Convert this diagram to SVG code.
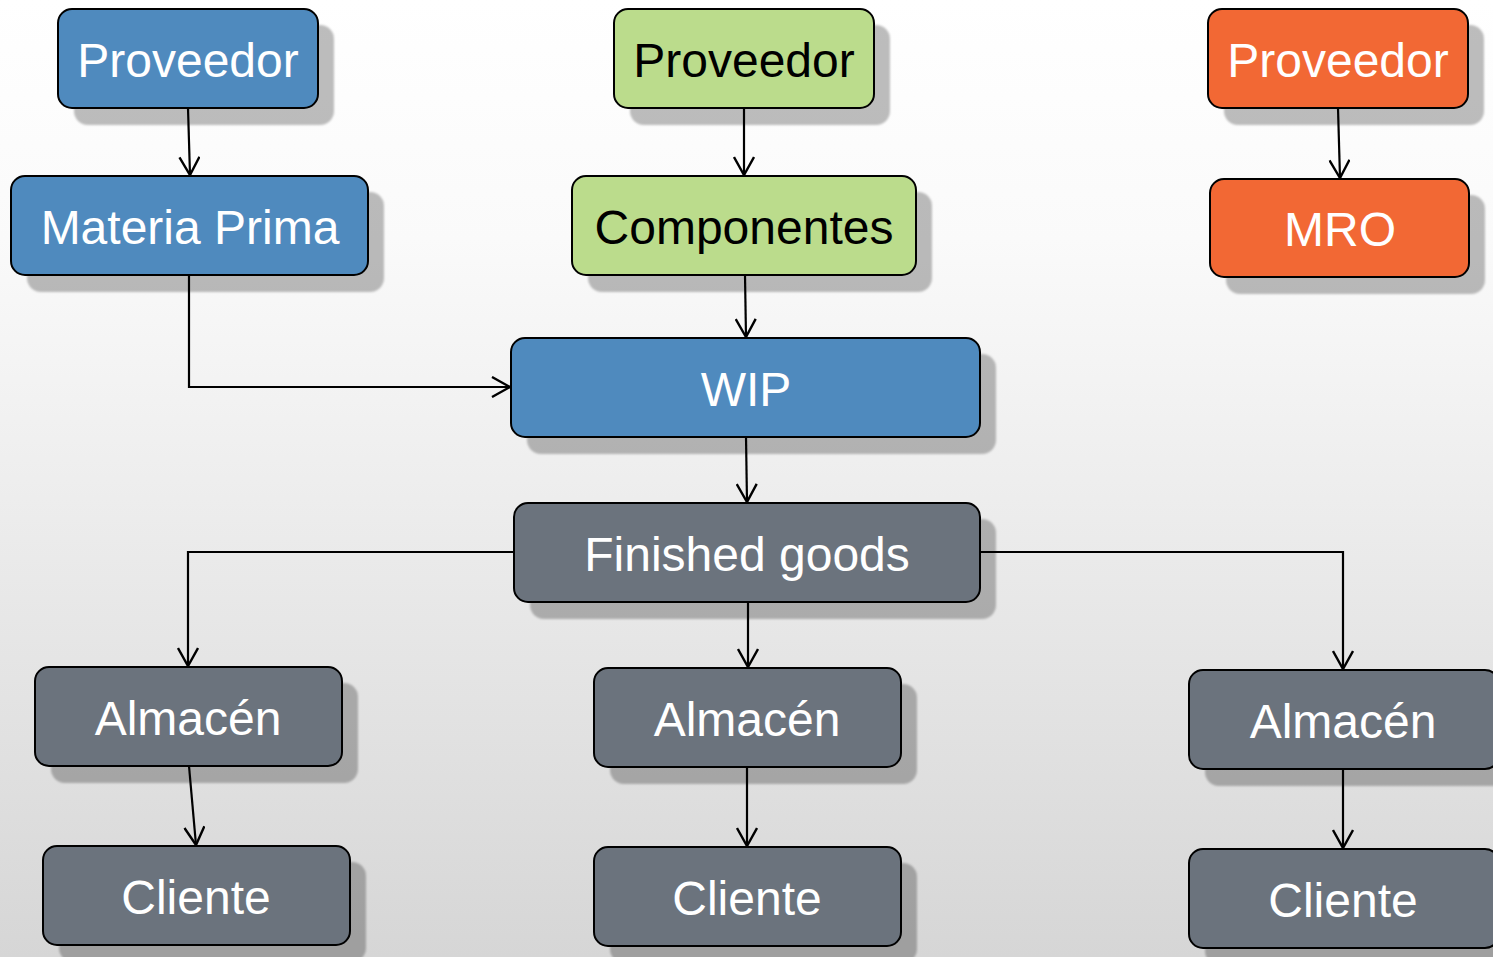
<svg xmlns="http://www.w3.org/2000/svg" width="1493" height="957" viewBox="0 0 1493 957">
  <defs>
    <linearGradient id="bg" x1="0" y1="0" x2="0" y2="1">
      <stop offset="0" stop-color="#ffffff"/>
      <stop offset="0.25" stop-color="#fafafa"/>
      <stop offset="1" stop-color="#d6d6d6"/>
    </linearGradient>
    <marker id="arrow" viewBox="0 0 20 22" refX="19" refY="11" markerWidth="20" markerHeight="22" markerUnits="userSpaceOnUse" orient="auto">
      <path d="M1,1 L19,11 L1,21" fill="none" stroke="#000" stroke-width="2.4"/>
    </marker>
    <filter id="soft" x="-5%" y="-5%" width="110%" height="110%">
      <feGaussianBlur stdDeviation="1"/>
    </filter>
  </defs>
  <style>
    .shadow { fill: #000; fill-opacity: 0.26; filter: url(#soft); }
    .box { stroke: #000; stroke-width: 2; }
    .blue { fill: #4f8abe; }
    .green { fill: #bbdc8c; }
    .orange { fill: #f26834; }
    .gray { fill: #6b737d; }
    .label { font-family: "Liberation Sans", Arial, sans-serif; font-size: 48px; text-anchor: middle; fill: #fff; }
    .dark { fill: #000; }
    .conn { fill: none; stroke: #000; stroke-width: 2.2; marker-end: url(#arrow); }
  </style>

  <rect width="1493" height="957" fill="url(#bg)"/>

  <!-- nodes -->
  <g id="proveedor-mp">
    <rect class="shadow" x="74" y="25" width="260" height="100" rx="14"/>
    <rect class="box blue" x="58" y="9" width="260" height="99" rx="14"/>
    <text class="label" x="188" y="77">Proveedor</text>
  </g>
  <g id="materia-prima">
    <rect class="shadow" x="27" y="192" width="357" height="100" rx="14"/>
    <rect class="box blue" x="11" y="176" width="357" height="99" rx="14"/>
    <text class="label" x="190" y="244">Materia Prima</text>
  </g>
  <g id="proveedor-comp">
    <rect class="shadow" x="630" y="25" width="260" height="100" rx="14"/>
    <rect class="box green" x="614" y="9" width="260" height="99" rx="14"/>
    <text class="label dark" x="744" y="77">Proveedor</text>
  </g>
  <g id="componentes">
    <rect class="shadow" x="588" y="192" width="344" height="100" rx="14"/>
    <rect class="box green" x="572" y="176" width="344" height="99" rx="14"/>
    <text class="label dark" x="744" y="244">Componentes</text>
  </g>
  <g id="proveedor-mro">
    <rect class="shadow" x="1224" y="25" width="260" height="100" rx="14"/>
    <rect class="box orange" x="1208" y="9" width="260" height="99" rx="14"/>
    <text class="label" x="1338" y="77">Proveedor</text>
  </g>
  <g id="mro">
    <rect class="shadow" x="1226" y="195" width="259" height="99" rx="14"/>
    <rect class="box orange" x="1210" y="179" width="259" height="98" rx="14"/>
    <text class="label" x="1340" y="246">MRO</text>
  </g>
  <g id="wip">
    <rect class="shadow" x="527" y="354" width="469" height="100" rx="14"/>
    <rect class="box blue" x="511" y="338" width="469" height="99" rx="14"/>
    <text class="label" x="746" y="406">WIP</text>
  </g>
  <g id="finished-goods">
    <rect class="shadow" x="530" y="519" width="466" height="100" rx="14"/>
    <rect class="box gray" x="514" y="503" width="466" height="99" rx="14"/>
    <text class="label" x="747" y="571">Finished goods</text>
  </g>
  <g id="almacen-1">
    <rect class="shadow" x="51" y="683" width="307" height="100" rx="14"/>
    <rect class="box gray" x="35" y="667" width="307" height="99" rx="14"/>
    <text class="label" x="188" y="735">Almacén</text>
  </g>
  <g id="almacen-2">
    <rect class="shadow" x="610" y="684" width="307" height="100" rx="14"/>
    <rect class="box gray" x="594" y="668" width="307" height="99" rx="14"/>
    <text class="label" x="747" y="736">Almacén</text>
  </g>
  <g id="almacen-3">
    <rect class="shadow" x="1205" y="686" width="310" height="100" rx="14"/>
    <rect class="box gray" x="1189" y="670" width="310" height="99" rx="14"/>
    <text class="label" x="1343" y="738">Almacén</text>
  </g>
  <g id="cliente-1">
    <rect class="shadow" x="59" y="862" width="307" height="100" rx="14"/>
    <rect class="box gray" x="43" y="846" width="307" height="99" rx="14"/>
    <text class="label" x="196" y="914">Cliente</text>
  </g>
  <g id="cliente-2">
    <rect class="shadow" x="610" y="863" width="307" height="100" rx="14"/>
    <rect class="box gray" x="594" y="847" width="307" height="99" rx="14"/>
    <text class="label" x="747" y="915">Cliente</text>
  </g>
  <g id="cliente-3">
    <rect class="shadow" x="1205" y="865" width="310" height="100" rx="14"/>
    <rect class="box gray" x="1189" y="849" width="310" height="99" rx="14"/>
    <text class="label" x="1343" y="917">Cliente</text>
  </g>

  <!-- connectors -->
  <g id="connectors">
    <path class="conn" d="M188,108 L190,175"/>
    <path class="conn" d="M189,275 L189,387 L510,387"/>
    <path class="conn" d="M744,108 L744,175"/>
    <path class="conn" d="M745,275 L746,337"/>
    <path class="conn" d="M1338,108 L1340,178"/>
    <path class="conn" d="M746,437 L747,502"/>
    <path class="conn" d="M514,552 L188,552 L188,666"/>
    <path class="conn" d="M748,602 L748,667"/>
    <path class="conn" d="M980,552 L1343,552 L1343,669"/>
    <path class="conn" d="M189,766 L196,845"/>
    <path class="conn" d="M747,767 L747,846"/>
    <path class="conn" d="M1343,769 L1343,848"/>
  </g>
</svg>
